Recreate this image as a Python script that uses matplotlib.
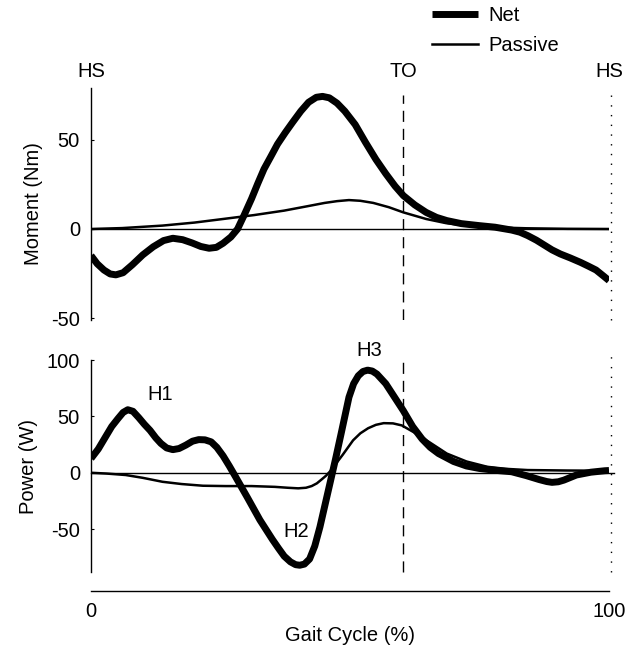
import matplotlib
matplotlib.use("Agg")
import matplotlib.pyplot as plt
import numpy as np

plt.rcParams['font.family'] = ['Liberation Sans', 'DejaVu Sans']
plt.rcParams['axes.unicode_minus'] = False

# Gait cycle (%) sample points and values
mom_net_x = [0, 1.2, 2.5, 3.7, 4.8, 6.2, 8, 10, 12, 14, 15.8, 17.7, 19.5, 21.2, 22.8, 24.2, 25.5, 27, 28.3, 29.6, 31, 32.2, 33.4, 34.7, 36, 37.5, 38.9, 40.5, 42, 43.5, 44.7, 46, 47.5, 49, 51, 53, 55, 56.9, 58.7, 60.3, 62.5, 64.7, 66.7, 68.7, 71.5, 74.9, 78, 81.2, 82.8, 84.3, 86, 87.5, 89, 90.6, 92.5, 94.5, 96, 97.5, 99, 100]
mom_net_y = [-14.9, -19.5, -23, -25.2, -25.7, -24.5, -20, -14.5, -10, -6.5, -5.2, -6, -7.8, -9.8, -10.8, -10.3, -8, -4.5, 0, 8, 17, 25.5, 33.6, 40.5, 47.5, 54, 59.7, 66, 71, 73.8, 74.3, 73.5, 70.5, 66, 58.5, 48.5, 39, 31, 24, 18.7, 13.5, 9.3, 6.5, 4.7, 3, 1.9, 1.0, -0.6, -1.8, -3.7, -6.3, -9, -11.7, -14, -16.2, -18.7, -20.8, -23, -26.5, -28.9]

mom_pas_x = [0, 6, 13.8, 20, 25.5, 31.5, 37.3, 41.5, 45.1, 47.5, 49.8, 52, 54.5, 57.5, 60.3, 64.7, 68.5, 72.6, 78, 84, 92, 100]
mom_pas_y = [0, 0.5, 1.9, 3.6, 5.6, 7.8, 10.3, 12.6, 14.6, 15.6, 16.2, 15.8, 14.6, 12.2, 9.3, 5.6, 3.3, 1.9, 0.9, 0.4, 0.1, 0]

pow_net_x = [0, 1.4, 2.8, 4, 5.2, 6.2, 7.1, 8.1, 9.2, 10.3, 11.4, 12.5, 13.5, 14.6, 15.8, 17, 18.3, 19.6, 20.8, 22, 23.2, 24.3, 25.5, 26.7, 27.9, 30.2, 32.6, 35, 36.2, 37.3, 38.5, 39.5, 40.3, 41.2, 42.2, 43.2, 44.2, 45.2, 46.2, 47.2, 48.3, 49.8, 50.7, 51.6, 52.5, 53.4, 54.3, 55.2, 56.9, 58.6, 60.3, 62.1, 63.9, 65.5, 67.1, 70, 72.5, 75, 78, 81.2, 84, 86.5, 88, 89, 90.2, 91.3, 93.7, 96.5, 99.2, 100]
pow_net_y = [12.6, 21, 31.8, 41, 48, 53.5, 55.9, 54.5, 49, 43, 37.6, 31, 26, 22, 20.5, 21.5, 24.5, 28, 29.4, 29.2, 27.4, 22.5, 15, 6, -3.5, -22, -41.8, -59, -67, -74, -79, -81.5, -82, -81, -76.5, -65, -48, -28, -8, 12, 35, 67, 79, 86, 89.8, 91, 90.2, 87.5, 79, 67, 55, 41, 30, 22.5, 17, 10, 6, 3.8, 2.2, 0.9, -2.5, -6, -7.8, -8.5, -8, -6.5, -2, 0.5, 1.8, 2]

pow_pas_x = [0, 3, 6.7, 10, 13.8, 17.5, 21.6, 26, 31, 35.5, 38, 40, 41.5, 42.6, 43.6, 44.5, 45.4, 46.2, 47.2, 48.6, 50.6, 52, 53.5, 55, 56.5, 58.3, 60, 62.3, 64.7, 66.7, 68.7, 72.5, 76.5, 80, 84.3, 92, 100]
pow_pas_y = [0, -0.7, -2, -4.5, -8, -10, -11.5, -11.8, -11.8, -12.5, -13.3, -13.8, -13.3, -11.8, -9.4, -6, -2.5, 1.5, 7.5, 16, 28.8, 35, 39.5, 42.5, 44, 43.8, 42, 36, 29, 23, 17, 10, 5.3, 3.5, 2.4, 2, 1.8]

to_pct = 60.3
x_ticks = [0, 100]
mom_yticks = [-50, 0, 50]
pow_yticks = [-50, 0, 50, 100]

W, H = 637, 651
fig = plt.figure(figsize=(W/100, H/100), dpi=100)

def ax_rect(x0, y0, x1, y1):
    return [x0/W, 1 - y1/H, (x1-x0)/W, (y1-y0)/H]

ax1 = fig.add_axes(ax_rect(91, 88, 609, 320))
ax2 = fig.add_axes(ax_rect(91, 360, 609, 572))

fs = 14.5
for ax in (ax1, ax2):
    ax.set_xlim(0, 100)
    for s in ('top', 'right'):
        ax.spines[s].set_visible(False)
    ax.spines['left'].set_linewidth(1.0)
    ax.tick_params(axis='y', direction='in', length=2.5, width=0.8, labelsize=fs, pad=8)
    ax.patch.set_visible(False)

ax1.set_ylim(-51, 79)
ax2.set_ylim(-88, 100)

ax1.spines['bottom'].set_visible(False)
ax1.set_xticks([])
ax1.set_yticks(mom_yticks)
ax2.set_yticks(pow_yticks)

ax2.spines['bottom'].set_position(('outward', 13.5))
ax2.spines['bottom'].set_linewidth(1.0)
ax2.set_xticks(x_ticks)
ax2.tick_params(axis='x', length=0, labelsize=fs, pad=8)
ax2.set_xlabel('Gait Cycle (%)', fontsize=fs, labelpad=4)

ax1.set_ylabel('Moment (Nm)', fontsize=fs, labelpad=6)
ax2.set_ylabel('Power (W)', fontsize=fs, labelpad=6)

# zero lines
ax1.plot([0, 100], [0, 0], color='black', lw=1.0)
ax2.plot([0, 101], [0, 0], color='black', lw=1.0, clip_on=False)

# curves
kw_thick = dict(color='black', lw=5, solid_capstyle='butt', solid_joinstyle='round')
kw_thin = dict(color='black', lw=1.8, solid_joinstyle='round')
l_net, = ax1.plot(mom_net_x, mom_net_y, **kw_thick)
l_pas, = ax1.plot(mom_pas_x, mom_pas_y, **kw_thin)
ax2.plot(pow_net_x, pow_net_y, **kw_thick)
ax2.plot(pow_pas_x, pow_pas_y, **kw_thin)

# event lines
ax1.plot([to_pct, to_pct], [-51, 75], color='black', lw=1.0, ls=(0, (8, 5)))
ax2.plot([to_pct, to_pct], [-88, 102], color='black', lw=1.0, ls=(0, (8, 5)), clip_on=False)
ax1.plot([100.3, 100.3], [-51, 79], color='black', lw=1.0, ls=(0, (1, 6)), clip_on=False)
ax2.plot([100.3, 100.3], [-88, 104], color='black', lw=1.0, ls=(0, (1, 6)), clip_on=False)

# event labels
for xv, lab in [(0, 'HS'), (to_pct, 'TO'), (100, 'HS')]:
    ax1.text(xv, 1.03, lab, transform=ax1.get_xaxis_transform(), ha='center', va='bottom', fontsize=fs)

# peak labels
ax2.text(13.3, 69, 'H1', ha='center', va='center', fontsize=fs)
ax2.text(39.6, -52, 'H2', ha='center', va='center', fontsize=fs)
ax2.text(53.7, 108, 'H3', ha='center', va='center', fontsize=fs, clip_on=False)

# legend
fig.legend([l_net, l_pas], ['Net', 'Passive'], loc='upper left',
           bbox_to_anchor=(414/W, 1 + 12/H), frameon=False, fontsize=fs,
           handlelength=2.3, handletextpad=0.5, labelspacing=0.55)

fig.savefig('out.png', dpi=100)
